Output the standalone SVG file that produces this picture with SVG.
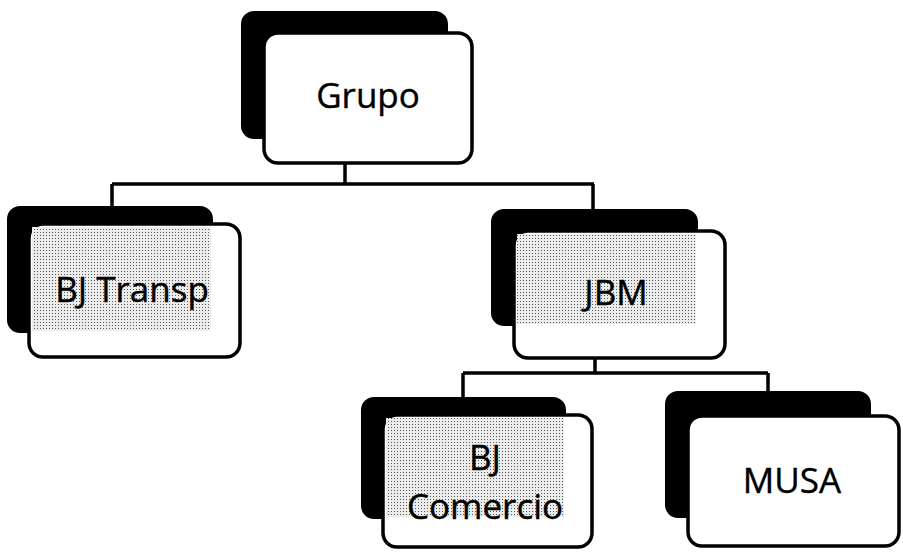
<svg xmlns="http://www.w3.org/2000/svg" width="903" height="559" viewBox="0 0 903 559">
<style>
.shadow{fill:#000;stroke:#000;stroke-width:2}
.box{fill:#fff;stroke:#000;stroke-width:3.5}
.stip{fill:url(#dots)}
.lbl{font-family:"Open Sans","Noto Sans",sans-serif;font-size:35px;fill:#000;text-anchor:middle;stroke:#000;stroke-width:0.4}
.conn{fill:none;stroke:#000;stroke-width:3.5}
</style>
<defs>
<pattern id="dots" width="3" height="3" patternUnits="userSpaceOnUse">
<rect width="3" height="3" fill="#ececec"/>
<rect x="1" y="1" width="1" height="1" fill="#555"/>
</pattern>
</defs>
<rect width="903" height="559" fill="#fff"/>
<g id="connectors">
<path class="conn" d="M345,163 V184 M112,184 H594 M112,184 V207 M593,184 V210"/>
<path class="conn" d="M595,358 V373 M463,373 H768 M463,373 V398 M768,373 V392"/>
</g>
<g id="node-grupo">
<rect class="shadow" x="242" y="12" width="205" height="126" rx="12"/>
<rect class="box" x="264" y="33" width="208" height="130" rx="14"/>
<text class="lbl" x="368" y="108" font-size="36">Grupo</text>
</g>
<g id="node-bjtransp">
<rect class="shadow" x="8" y="207" width="204" height="125" rx="12"/>
<rect class="box" x="29" y="224" width="211" height="133" rx="14"/>
<rect class="stip" x="32" y="227" width="179" height="104"/>
<text class="lbl" x="132" y="302">BJ Transp</text>
</g>
<g id="node-jbm">
<rect class="shadow" x="492" y="210" width="205" height="115" rx="12"/>
<rect class="box" x="514" y="231" width="211" height="127" rx="14"/>
<rect class="stip" x="517" y="234" width="179" height="90"/>
<text class="lbl" x="616" y="305">JBM</text>
</g>
<g id="node-bjcomercio">
<rect class="shadow" x="362" y="398" width="203" height="120" rx="12"/>
<rect class="box" x="383" y="415" width="209" height="132" rx="14"/>
<rect class="stip" x="386" y="418" width="178" height="99"/>
<text class="lbl" x="485" y="470">BJ</text>
<text class="lbl" x="485" y="519">Comercio</text>
</g>
<g id="node-musa">
<rect class="shadow" x="666" y="392" width="204" height="125" rx="12"/>
<rect class="box" x="688" y="416" width="211" height="130" rx="14"/>
<text class="lbl" x="792" y="493">MUSA</text>
</g>
</svg>
